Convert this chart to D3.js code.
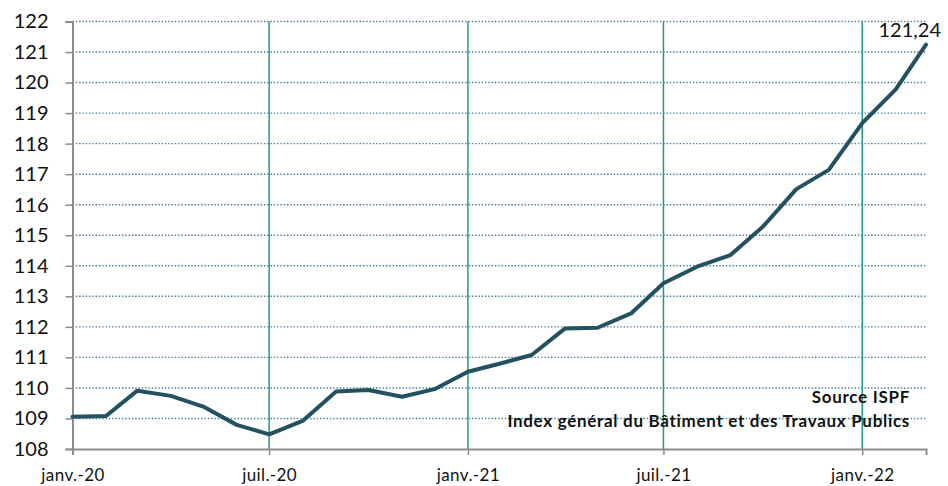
<!DOCTYPE html>
<html>
<head>
<meta charset="utf-8">
<script src="https://cdn.jsdelivr.net/npm/d3@7"></script>
<style>
  body { margin: 0; background: #fff; }
  svg text { font-family: Lato, "Open Sans", sans-serif; fill: #111; }
</style>
</head>
<body>
<script>
// monthly index, janv. 2020 -> mars 2022
var months = ["2020-01","2020-02","2020-03","2020-04","2020-05","2020-06","2020-07","2020-08","2020-09","2020-10","2020-11","2020-12",
              "2021-01","2021-02","2021-03","2021-04","2021-05","2021-06","2021-07","2021-08","2021-09","2021-10","2021-11","2021-12",
              "2022-01","2022-02","2022-03"];
var values = [109.06, 109.08, 109.91, 109.74, 109.39, 108.79, 108.48, 108.92, 109.88, 109.93, 109.71, 109.96,
              110.53, 110.81, 111.08, 111.95, 111.97, 112.44, 113.43, 113.97, 114.35, 115.28, 116.51, 117.14,
              118.67, 119.78, 121.24];
var tickMonths = ["2020-01","2020-07","2021-01","2021-07","2022-01"];
var tickLabels = ["janv.-20","juil.-20","janv.-21","juil.-21","janv.-22"];
var yTicks = d3.range(108, 123, 1);
var lastLabel = "121,24";
var sourceLines = ["Source ISPF", "Index général du Bâtiment et des Travaux Publics"];

var width = 948, height = 486;
var margin = {left: 72.5, right: 22, top: 21.5, bottom: 37};

var svg = d3.select("body").append("svg").attr("width", width).attr("height", height);

var parse = d3.timeParse("%Y-%m");
var x = d3.scaleTime()
  .domain([parse(months[0]), parse(months[months.length - 1])])
  .range([margin.left, width - margin.right]);
var y = d3.scaleLinear().domain([108, 122]).range([height - margin.bottom, margin.top]);

// dotted horizontal grid
svg.append("g").selectAll("line").data(yTicks.slice(1)).enter().append("line")
  .attr("x1", margin.left).attr("x2", width - margin.right)
  .attr("y1", function(d) { return y(d); }).attr("y2", function(d) { return y(d); })
  .attr("stroke", "#3f7f93").attr("stroke-width", 1.4).attr("stroke-dasharray", "1.4,1.9");

// vertical teal lines at janv./juil.
svg.append("g").selectAll("line").data(tickMonths.slice(1)).enter().append("line")
  .attr("x1", function(d) { return x(parse(d)); }).attr("x2", function(d) { return x(parse(d)); })
  .attr("y1", y(122)).attr("y2", y(108))
  .attr("stroke", "#1c9a8a").attr("stroke-width", 1.5);

// y axis
var yAxis = svg.append("g").attr("transform", "translate(" + margin.left + ",0)")
  .call(d3.axisLeft(y).tickValues(yTicks).tickFormat(d3.format("d")).tickSize(7).tickPadding(17));
yAxis.select(".domain").attr("stroke", "#8c8c8c").attr("stroke-width", 2);
yAxis.selectAll(".tick line").attr("stroke", "#8c8c8c").attr("stroke-width", 1.5);
yAxis.selectAll("text").style("font-size", "20px").style("font-family", "Lato, sans-serif").attr("fill", "#111");

// x axis
var xAxis = svg.append("g").attr("transform", "translate(0," + y(108) + ")")
  .call(d3.axisBottom(x).tickValues(tickMonths.map(parse))
    .tickFormat(function(d, i) { return tickLabels[i]; }).tickSize(6).tickPadding(14));
xAxis.select(".domain").attr("stroke", "#8c8c8c").attr("stroke-width", 2);
xAxis.selectAll(".tick line").attr("stroke", "#8c8c8c").attr("stroke-width", 1.5);
xAxis.selectAll("text").style("font-size", "17px").style("letter-spacing", "0.4px")
  .style("font-family", "Lato, sans-serif").attr("fill", "#111");

// series line
var line = d3.line()
  .x(function(d, i) { return x(parse(months[i])); })
  .y(function(d) { return y(d); });
svg.append("path").datum(values)
  .attr("d", line).attr("fill", "none")
  .attr("stroke", "#24515f").attr("stroke-width", 4).attr("stroke-linejoin", "round").attr("stroke-linecap", "round");

// last value label
svg.append("text")
  .attr("x", 941).attr("y", y(values[values.length - 1]) - 8)
  .attr("text-anchor", "end").style("font-size", "20px").text(lastLabel);

// source text
svg.append("g").selectAll("text").data(sourceLines).enter().append("text")
  .attr("x", 910).attr("y", function(d, i) { return 403 + i * 24; })
  .attr("text-anchor", "end").style("font-size", "17px").style("font-weight", "bold")
  .style("letter-spacing", "0.7px")
  .text(function(d) { return d; });
</script>
</body>
</html>
